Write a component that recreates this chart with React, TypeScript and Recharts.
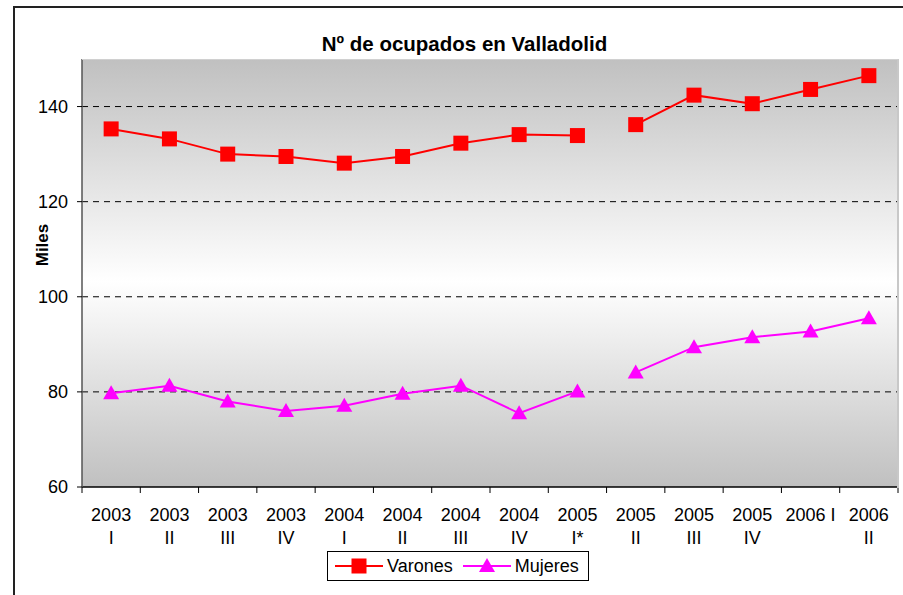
import { LineChart, Line, XAxis, YAxis, ReferenceArea, ReferenceLine } from 'recharts';

const tickTop = ['2003', '2003', '2003', '2003', '2004', '2004', '2004', '2004', '2005', '2005', '2005', '2005', '2006 I', '2006'];
const tickBottom = ['I', 'II', 'III', 'IV', 'I', 'II', 'III', 'IV', 'I*', 'II', 'III', 'IV', '', 'II'];

const varones = [135.3, 133.2, 130.0, 129.5, 128.1, 129.5, 132.3, 134.1, 133.9, 136.2, 142.4, 140.6, 143.6, 146.5];
const mujeres = [79.7, 81.3, 78.0, 76.0, 77.1, 79.6, 81.3, 75.5, 80.1, 84.1, 89.4, 91.5, 92.7, 95.5];

// the series are broken between "2005 I*" and "2005 II"
const restartAt = 9;

const yTicks = [60, 80, 100, 120, 140];
const gridValues = [80, 100, 120, 140];
const xTicks = tickTop.map((_, i) => i).concat(tickTop.length);

const data = varones.map((v, i) => ({
  x: i + 0.5,
  v1: i < restartAt ? v : null,
  v2: i >= restartAt ? v : null,
  m1: i < restartAt ? mujeres[i] : null,
  m2: i >= restartAt ? mujeres[i] : null,
}));

const FONT = 'Arial, "Liberation Sans", sans-serif';
const PLOT_LEFT = 82;
const PLOT_RIGHT = 898;
const PLOT_TOP = 59;
const PLOT_BOTTOM = 487;
const STEP = (PLOT_RIGHT - PLOT_LEFT) / tickTop.length;

const Square = (props: any) => {
  const { cx, cy } = props;
  if (cx == null || cy == null) return null;
  return <rect x={cx - 7.5} y={cy - 7.5} width={15} height={15} fill="#ff0000" />;
};

const Triangle = (props: any) => {
  const { cx, cy } = props;
  if (cx == null || cy == null) return null;
  return (
    <path
      d={`M${cx},${cy - 8} L${cx + 8},${cy + 6} L${cx - 8},${cy + 6} Z`}
      fill="#ff00ff"
    />
  );
};

const XTick = (props: any) => {
  const { x, y, payload } = props;
  const k = payload.value;
  if (k >= tickTop.length) return null;
  return (
    <text
      x={x + STEP / 2}
      y={y}
      textAnchor="middle"
      fontFamily={FONT}
      fontSize={18}
      fill="#000"
    >
      <tspan x={x + STEP / 2} dy={28}>{tickTop[k]}</tspan>
      <tspan x={x + STEP / 2} dy={23}>{tickBottom[k]}</tspan>
    </text>
  );
};

function LegendBox() {
  return (
    <div
      style={{
        position: 'absolute',
        left: 327,
        top: 551,
        width: 260,
        height: 28,
        border: '1px solid #000',
        background: '#fff',
        display: 'flex',
        alignItems: 'center',
        fontFamily: FONT,
        fontSize: 18,
      }}
    >
      <svg width={54} height={20} style={{ marginLeft: 5 }}>
        <line x1={2} y1={10} x2={50} y2={10} stroke="#ff0000" strokeWidth={2} />
        <rect x={18.5} y={2.5} width={15} height={15} fill="#ff0000" />
      </svg>
      <span>Varones</span>
      <svg width={54} height={20} style={{ marginLeft: 8 }}>
        <line x1={2} y1={10} x2={50} y2={10} stroke="#ff00ff" strokeWidth={2} />
        <path d="M26,2 L34,16 L18,16 Z" fill="#ff00ff" />
      </svg>
      <span>Mujeres</span>
    </div>
  );
}

export default function App() {
  return (
    <div style={{ position: 'absolute', left: 0, top: 0, width: 903, height: 595, background: '#fff', overflow: 'hidden' }}>
      <div
        style={{
          position: 'absolute',
          left: 13,
          top: 6,
          width: 1000,
          height: 1000,
          borderLeft: '2px solid #222',
          borderTop: '2px solid #222',
        }}
      />
      <div
        style={{
          position: 'absolute',
          left: 13,
          width: 903,
          top: 32,
          textAlign: 'center',
          fontFamily: FONT,
          fontWeight: 'bold',
          fontSize: 20.5,
        }}
      >
        Nº de ocupados en Valladolid
      </div>
      <div style={{ position: 'absolute', left: 0, top: 0 }}>
        <LineChart
          width={903}
          height={595}
          data={data}
          margin={{ top: PLOT_TOP, right: 903 - PLOT_RIGHT, left: 0, bottom: 48 }}
        >
          <defs>
            <linearGradient id="plotBg" x1="0" y1="0" x2="0" y2="1">
              <stop offset="0%" stopColor="#c0c0c0" />
              <stop offset="52%" stopColor="#ffffff" />
              <stop offset="100%" stopColor="#c0c0c0" />
            </linearGradient>
          </defs>
          <ReferenceArea
            x1={0}
            x2={tickTop.length}
            y1={60}
            y2={150}
            fill="url(#plotBg)"
            fillOpacity={1}
            stroke="none"
          />
          {gridValues.map((v) => (
            <ReferenceLine key={v} y={v} stroke="#000" strokeDasharray="6 5" />
          ))}
          <XAxis
            type="number"
            dataKey="x"
            domain={[0, tickTop.length]}
            ticks={xTicks}
            interval={0}
            height={60}
            tickSize={6}
            tickMargin={0}
            tick={<XTick />}
            axisLine={{ stroke: '#000', strokeWidth: 1.5 }}
            tickLine={{ stroke: '#000' }}
          />
          <YAxis
            type="number"
            domain={[60, 150]}
            ticks={yTicks}
            interval={0}
            width={PLOT_LEFT}
            tickSize={5}
            tickMargin={9}
            tick={{ fontFamily: FONT, fontSize: 18, fill: '#000' }}
            axisLine={{ stroke: '#555', strokeWidth: 1.5 }}
            tickLine={{ stroke: '#000' }}
            label={{
              content: () => (
                <text
                  x={48}
                  y={245}
                  transform="rotate(-90 48 245)"
                  textAnchor="middle"
                  fontFamily={FONT}
                  fontWeight="bold"
                  fontSize={17}
                  fill="#000"
                >
                  Miles
                </text>
              ),
            }}
          />
          <Line dataKey="v1" stroke="#ff0000" strokeWidth={2} dot={<Square />} isAnimationActive={false} connectNulls={false} />
          <Line dataKey="v2" stroke="#ff0000" strokeWidth={2} dot={<Square />} isAnimationActive={false} connectNulls={false} />
          <Line dataKey="m1" stroke="#ff00ff" strokeWidth={2} dot={<Triangle />} isAnimationActive={false} connectNulls={false} />
          <Line dataKey="m2" stroke="#ff00ff" strokeWidth={2} dot={<Triangle />} isAnimationActive={false} connectNulls={false} />
        </LineChart>
      </div>
      <div
        style={{
          position: 'absolute',
          left: PLOT_LEFT,
          top: PLOT_TOP,
          width: PLOT_RIGHT - PLOT_LEFT - 1,
          height: PLOT_BOTTOM - PLOT_TOP,
          borderTop: '1px solid #d0d0d0',
          borderRight: '2px solid #c8c8c8',
          pointerEvents: 'none',
        }}
      />
      <LegendBox />
    </div>
  );
}
